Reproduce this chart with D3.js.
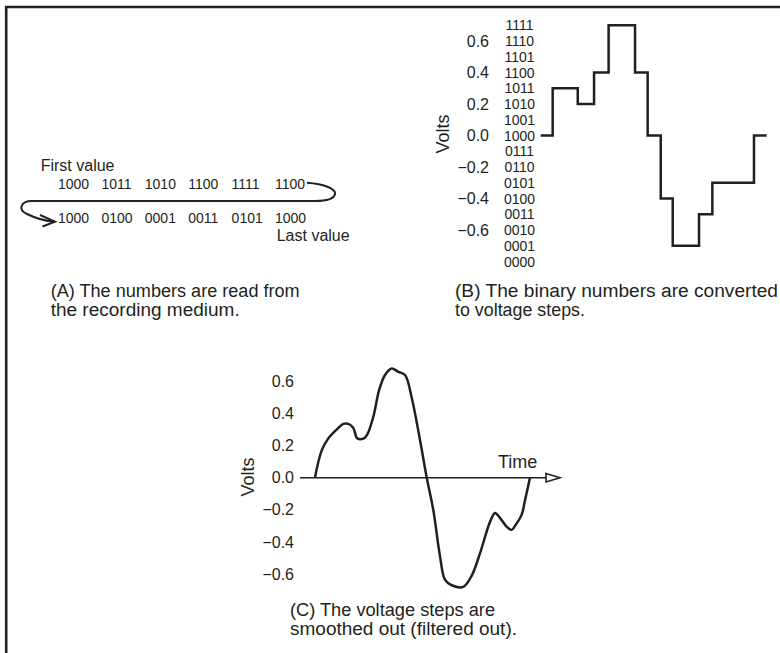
<!DOCTYPE html>
<html>
<head>
<meta charset="utf-8">
<script src="https://d3js.org/d3.v7.min.js"></script>
<style>
  body { margin: 0; background: #fff; }
  svg { display: block; font-family: "Liberation Sans", Arial, sans-serif; }
  text { fill: #231f20; }
</style>
</head>
<body>
<svg id="chart" width="780" height="653"></svg>
<script>
// ---- values ----
// the numbers as they come off the recording medium, in order
var readOrder = ["1000", "1011", "1010", "1100", "1111", "1100",
                 "1000", "0100", "0001", "0011", "0101", "1000"];
// 4-bit codes listed beside the volts axis (top to bottom)
var codeLabels = ["1111", "1110", "1101", "1100", "1011", "1010", "1001", "1000",
                  "0111", "0110", "0101", "0100", "0011", "0010", "0001", "0000"];
var voltTicks = [0.6, 0.4, 0.2, 0.0, -0.2, -0.4, -0.6];
// time at which each voltage step starts (last entry = end of the last step)
var stepEdges = [0, 0.97, 3.0, 4.32, 5.5, 7.64, 8.66, 9.72, 10.69, 12.82, 13.9, 17.27, 18.3];
// smoothed (filtered) signal
var smoothTime  = [1.15, 1.67, 2.18, 2.82, 3.33, 3.72, 4.1, 4.41, 4.92, 5.18, 5.64, 6.1,
                   6.54, 7.05, 7.56, 8.08, 8.59, 9.23, 9.75, 10.25, 10.77, 11.15, 11.67,
                   12.56, 13.21, 13.85, 14.62, 15.0, 15.38, 15.9, 16.28, 16.54, 17.05,
                   17.31, 17.69];
var smoothVolts = [0, 0.17, 0.245, 0.30, 0.335, 0.335, 0.31, 0.245, 0.245, 0.27, 0.38, 0.55,
                   0.64, 0.68, 0.66, 0.64, 0.50, 0.235, 0, -0.2, -0.49, -0.635, -0.67,
                   -0.68, -0.61, -0.47, -0.275, -0.22, -0.25, -0.305, -0.325, -0.30, -0.23,
                   -0.14, 0];
var captionA = ["(A) The numbers are read from", "the recording medium."];
var captionB = ["(B) The binary numbers are converted", "to voltage steps."];
var captionC = ["(C) The voltage steps are", "smoothed out (filtered out)."];

var ink = "#231f20";
var svg = d3.select("#chart");

function codeVolts(code) { return (parseInt(code, 2) - 8) / 10; }

// frame: top and left rule
svg.append("line").attr("x1", 5).attr("x2", 780).attr("y1", 7).attr("y2", 7)
  .attr("stroke", ink).attr("stroke-width", 2.6);
svg.append("line").attr("x1", 6.2).attr("x2", 6.2).attr("y1", 6).attr("y2", 653)
  .attr("stroke", ink).attr("stroke-width", 2.6);

// captions, stretched to the widths of the original lines
function caption(lines, x, y, widths) {
  lines.forEach(function(s, i) {
    svg.append("text")
      .attr("x", x).attr("y", y + i * 19)
      .attr("font-size", 18)
      .attr("textLength", widths[i])
      .attr("lengthAdjust", "spacingAndGlyphs")
      .text(s);
  });
}

// ---------- (A) numbers read from the medium ----------
var colX = d3.scalePoint().domain(d3.range(6)).range([58, 275]);
var rowY = [188.5, 223.3];
svg.append("text").attr("x", 40.7).attr("y", 170.5).attr("font-size", 16).text("First value");
[readOrder.slice(0, 6), readOrder.slice(6)].forEach(function(row, r) {
  svg.append("g").selectAll("text").data(row).enter().append("text")
    .attr("x", function(d, i) { return colX(i); })
    .attr("y", rowY[r])
    .attr("font-size", 14)
    .text(function(d) { return d; });
});
svg.append("text").attr("x", 276.7).attr("y", 241).attr("font-size", 16).text("Last value");

// connector from the end of row one back to the start of row two
var xr = colX(5) + 32, xl = colX(0) - 3;
var loop = d3.path();
loop.moveTo(xr, 182.7);
loop.bezierCurveTo(xr + 18, 184, xr + 29, 189, xr + 28, 194);
loop.bezierCurveTo(xr + 27, 199, xr + 20, 201, xr + 8, 201);
loop.lineTo(32, 201);
loop.bezierCurveTo(20, 201, 18, 210, 27, 214);
loop.bezierCurveTo(35, 218, 45, 221, xl, 221.7);
svg.append("path").attr("d", loop.toString())
  .attr("fill", "none").attr("stroke", ink).attr("stroke-width", 2);
svg.append("path")
  .attr("d", "M" + (xl - 15) + ",215L" + xl + ",221.7L" + (xl - 12.5) + ",226.5")
  .attr("fill", "none").attr("stroke", ink).attr("stroke-width", 2);

caption(captionA, 50.7, 296.5, [249, 189]);

// ---------- (B) binary numbers to voltage steps ----------
var xB = d3.scaleLinear().domain([0, 18.3]).range([540.7, 766.7]);
var yB = d3.scaleLinear().domain([-0.8, 0.7]).range([135.5 + 0.8 * 157.5, 135.5 - 0.7 * 157.5]);

var stepPts = readOrder.map(function(c, i) { return [stepEdges[i], codeVolts(c)]; });
stepPts.push([stepEdges[stepEdges.length - 1], codeVolts(readOrder[readOrder.length - 1])]);
svg.append("path")
  .attr("d", d3.line().curve(d3.curveStepAfter)
    .x(function(d) { return xB(d[0]); })
    .y(function(d) { return yB(d[1]); })(stepPts))
  .attr("fill", "none").attr("stroke", ink).attr("stroke-width", 2.5);

var axB = svg.append("g").attr("transform", "translate(489,0)")
  .call(d3.axisLeft(yB).tickValues(voltTicks).tickSize(0).tickPadding(0).tickFormat(d3.format(".1f")));
axB.select(".domain").remove();
axB.selectAll("text").attr("font-size", 16).attr("font-family", null).attr("fill", ink);

svg.append("g").selectAll("text").data(codeLabels).enter().append("text")
  .attr("x", 519.5)
  .attr("y", function(d) { return yB(codeVolts(d)); })
  .attr("dy", "0.36em")
  .attr("text-anchor", "middle")
  .attr("font-size", 14)
  .text(function(d) { return d; });

svg.append("text").attr("transform", "translate(443,134) rotate(-90)")
  .attr("text-anchor", "middle").attr("dy", "0.36em").attr("font-size", 18).text("Volts");

caption(captionB, 455, 296.5, [323, 130]);

// ---------- (C) smoothed signal ----------
var xC = d3.scaleLinear().domain([0, 20]).range([300, 560]);
var yC = d3.scaleLinear().domain([-0.7, 0.7]).range([477.7 + 0.7 * 160.5, 477.7 - 0.7 * 160.5]);

svg.append("line")
  .attr("x1", xC(0)).attr("x2", xC(20) - 14)
  .attr("y1", yC(0)).attr("y2", yC(0))
  .attr("stroke", ink).attr("stroke-width", 1.6);
svg.append("path")
  .attr("d", "M" + (xC(20) - 14) + "," + (yC(0) - 4.3) + "L" + xC(20) + "," + yC(0) +
             "L" + (xC(20) - 14) + "," + (yC(0) + 4.3) + "Z")
  .attr("fill", "#fff").attr("stroke", ink).attr("stroke-width", 1.6);

svg.append("path")
  .attr("d", d3.line().curve(d3.curveCatmullRom.alpha(0.5))
    .x(function(d, i) { return xC(smoothTime[i]); })
    .y(function(d) { return yC(d); })(smoothVolts))
  .attr("fill", "none").attr("stroke", ink).attr("stroke-width", 2.5);

var axC = svg.append("g").attr("transform", "translate(294,0)")
  .call(d3.axisLeft(yC).tickValues(voltTicks).tickSize(0).tickPadding(0).tickFormat(d3.format(".1f")));
axC.select(".domain").remove();
axC.selectAll("text").attr("font-size", 16).attr("font-family", null).attr("fill", ink);

svg.append("text").attr("x", 498).attr("y", 468).attr("font-size", 18).text("Time");
svg.append("text").attr("transform", "translate(248,477) rotate(-90)")
  .attr("text-anchor", "middle").attr("dy", "0.36em").attr("font-size", 18).text("Volts");

caption(captionC, 290, 616, [205, 227]);
</script>
</body>
</html>
